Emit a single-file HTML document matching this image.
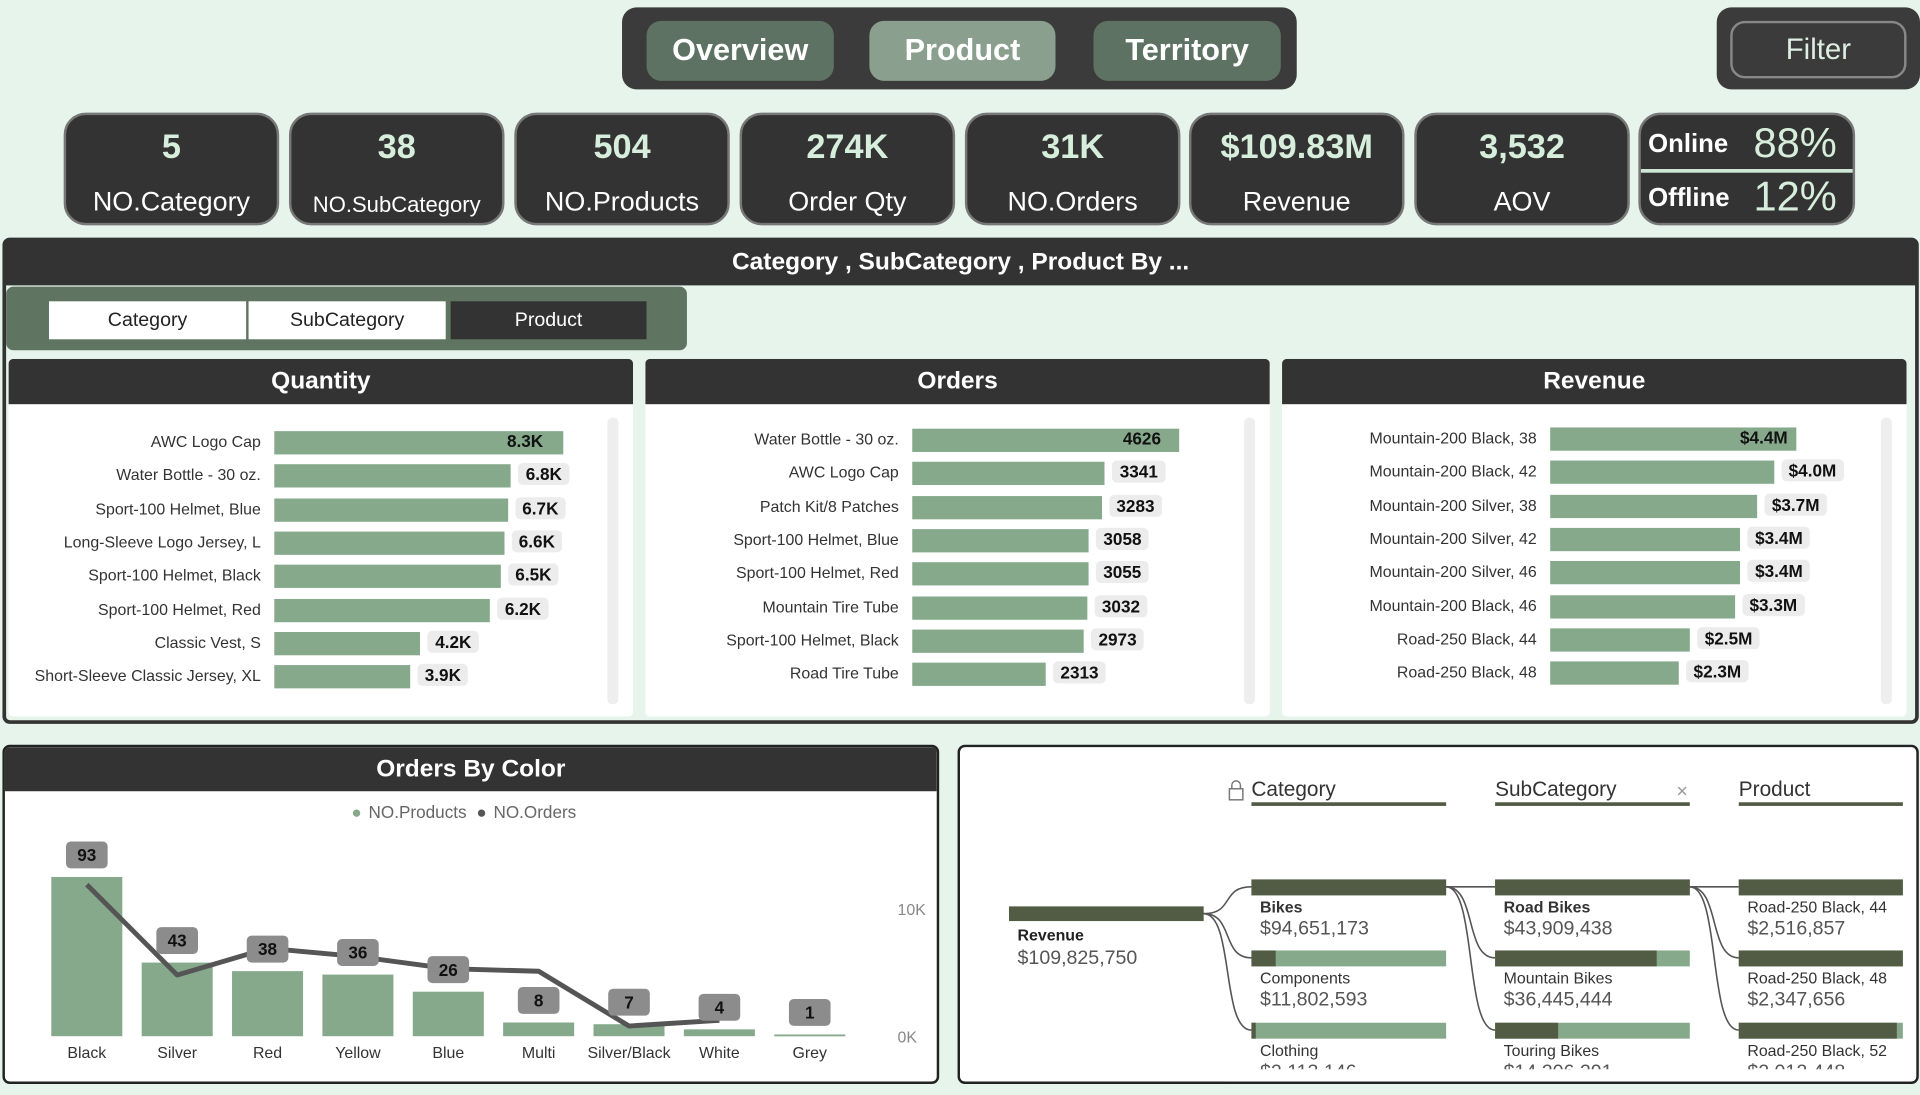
<!DOCTYPE html>
<html><head><meta charset="utf-8">
<style>
html,body{margin:0;padding:0;width:1920px;height:1095px;overflow:hidden;background:#e7f4eb;font-family:"Liberation Sans",sans-serif;}
#root{position:absolute;left:0;top:0;width:1568px;height:894px;transform:scale(1.22449,1.22483);transform-origin:0 0;}
.abs{position:absolute;box-sizing:border-box;}
.nav{background:#3a3b3a;border-radius:12px;}
.tab{border-radius:12px;color:#fff;font-weight:bold;font-size:25px;display:flex;align-items:center;justify-content:center;}
.kpi{background:#333;border-radius:18px;border:2px solid #777;overflow:hidden;text-align:center;}
.kpi .n{position:absolute;left:0;right:0;top:10px;color:#d6eedb;font-weight:bold;font-size:28px;}
.kpi .l{position:absolute;left:0;right:0;top:58px;color:#fff;font-size:22px;}
.hdr{background:#333;color:#fff;font-weight:bold;font-size:20px;display:flex;align-items:center;justify-content:center;}
.card{background:#fff;border-radius:4px;overflow:hidden;}
.lbl{font-size:13px;color:#333;text-align:right;white-space:nowrap;}
.val{font-size:14px;font-weight:bold;color:#111;background:#ececec;border-radius:4px;padding:1px 6px;}
</style></head><body>
<div id="root">
<div class="abs nav" style="left:508px;top:6px;width:551px;height:67px"></div>
<div class="abs tab" style="left:528px;top:17px;width:153px;height:49px;background:#5d7262">Overview</div>
<div class="abs tab" style="left:710px;top:17px;width:152px;height:49px;background:#8a9f8e">Product</div>
<div class="abs tab" style="left:893px;top:17px;width:153px;height:49px;background:#5d7262">Territory</div>
<div class="abs nav" style="left:1402px;top:6px;width:166px;height:67px"></div>
<div class="abs tab" style="left:1413px;top:17px;width:144px;height:47px;border:2px solid #888;background:#3a3b3a;color:#dfeee3;font-weight:normal;font-size:24px">Filter</div>

<div id="kpis"></div>
<div class="abs kpi" style="left:1338px;top:92px;width:177px;height:92px;text-align:left">
 <div class="abs" style="left:6px;top:12px;color:#fff;font-weight:bold;font-size:21px">Online</div>
 <div class="abs" style="left:92px;top:4px;color:#d6eedb;font-size:34px">88%</div>
 <div class="abs" style="left:0;top:44px;width:177px;height:3px;background:#cfe8d5"></div>
 <div class="abs" style="left:6px;top:56px;color:#fff;font-weight:bold;font-size:21px">Offline</div>
 <div class="abs" style="left:92px;top:48px;color:#d6eedb;font-size:34px">12%</div>
</div>

<div class="abs" style="left:2px;top:194px;width:1565px;height:397px;border:3px solid #333;border-radius:6px;background:#e7f4eb"></div>
<div class="abs hdr" style="left:4px;top:196px;width:1561px;height:37px">Category , SubCategory , Product By ...</div>
<div class="abs" style="left:5px;top:234px;width:556px;height:52px;background:#5f7562;border-radius:6px"></div>
<div class="abs tab" style="left:40px;top:246px;width:161px;height:31px;background:#fff;color:#222;font-weight:normal;font-size:16px;border-radius:0">Category</div>
<div class="abs tab" style="left:203px;top:246px;width:161px;height:31px;background:#fff;color:#222;font-weight:normal;font-size:16px;border-radius:0">SubCategory</div>
<div class="abs tab" style="left:368px;top:246px;width:160px;height:31px;background:#333;color:#fff;font-weight:normal;font-size:16px;border-radius:0">Product</div>
<div id="bars"></div>

<div class="abs card" style="left:2px;top:608px;width:765px;height:277px;border:2px solid #222;border-radius:6px">
 <div class="abs hdr" style="left:0;top:0;width:761px;height:36px">Orders By Color</div>
</div>
<svg class="abs" id="colorChart" style="left:0;top:0" width="1568" height="894"></svg>

<div class="abs card" style="left:782px;top:608px;width:785px;height:277px;border:2px solid #222;border-radius:6px"></div>
<svg class="abs" id="tree" style="left:0;top:0" width="1568" height="894"></svg>
</div>
<script>
// KPI data
const kpiValues=["5","38","504","274K","31K","$109.83M","3,532"];
const kpiLabels=["NO.Category","NO.SubCategory","NO.Products","Order Qty","NO.Orders","Revenue","AOV"];
const kpiX=[52,236,420,604,788,971,1155];
const kc=document.getElementById('kpis');
kpiValues.forEach((v,i)=>{const d=document.createElement('div');d.className='abs kpi';
d.style.cssText=`left:${kpiX[i]}px;top:92px;width:176px;height:92px`;


d.innerHTML=`<div class="n">${v}</div><div class="l" style="${i==1?'font-size:18px;top:63px':''}">${kpiLabels[i]}</div>`;kc.appendChild(d);});

// Bar chart data
const qtyCats=["AWC Logo Cap","Water Bottle - 30 oz.","Sport-100 Helmet, Blue","Long-Sleeve Logo Jersey, L","Sport-100 Helmet, Black","Sport-100 Helmet, Red","Classic Vest, S","Short-Sleeve Classic Jersey, XL"];
const qtyVals=[8.3,6.8,6.7,6.6,6.5,6.2,4.2,3.9];
const qtyLabels=["8.3K","6.8K","6.7K","6.6K","6.5K","6.2K","4.2K","3.9K"];
const ordCats=["Water Bottle - 30 oz.","AWC Logo Cap","Patch Kit/8 Patches","Sport-100 Helmet, Blue","Sport-100 Helmet, Red","Mountain Tire Tube","Sport-100 Helmet, Black","Road Tire Tube"];
const ordVals=[4626,3341,3283,3058,3055,3032,2973,2313];
const revCats=["Mountain-200 Black, 38","Mountain-200 Black, 42","Mountain-200 Silver, 38","Mountain-200 Silver, 42","Mountain-200 Silver, 46","Mountain-200 Black, 46","Road-250 Black, 44","Road-250 Black, 48"];
const revVals=[4.4,4.0,3.7,3.4,3.4,3.3,2.5,2.3];
const revLabels=["$4.4M","$4.0M","$3.7M","$3.4M","$3.4M","$3.3M","$2.5M","$2.3M"];

const bc=document.getElementById('bars');
function panel(x,title,cats,vals,labels,barX,barMax,y0,name){
 const c=document.createElement('div');c.className='abs card';c.style.cssText=`left:${x}px;top:293px;width:510px;height:292px`;
 
 
 c.innerHTML=`<div class="abs hdr" style="left:0;top:0;width:510px;height:37px">${title}</div>
 <div class="abs" style="left:${489}px;top:48px;width:9px;height:234px;background:#eee;border-radius:4px"></div>`;
 bc.appendChild(c);
 const max=Math.max(...vals);
 cats.forEach((cat,i)=>{const y=y0+i*27.3;
  const l=document.createElement('div');l.className='abs lbl';l.style.cssText=`right:${1568-(barX-11)}px;top:${y-8}px`;l.textContent=cat;
  
  bc.appendChild(l);
  const w=vals[i]/max*barMax;
  const b=document.createElement('div');b.className='abs';b.style.cssText=`left:${barX}px;top:${y-9}px;width:${w}px;height:19px;background:#86a98c`;
  
  bc.appendChild(b);
  const v=document.createElement('div');v.className='abs val';v.style.cssText=`left:${barX+w+(i==0?-52:6)}px;top:${y-10}px;${i==0?'background:transparent':''}`;v.textContent=labels[i];
  
  bc.appendChild(v);
 });
}
panel(7,"Quantity",qtyCats,qtyVals,qtyLabels,224,236,361,'quantity');
panel(527,"Orders",ordCats,ordVals,ordVals.map(String),745,218,359,'orders');
panel(1047,"Revenue",revCats,revVals,revLabels,1266,201,358,'revenue');
// fix orders first label position (inside bar end box like reference)
</script>
<script>
// Orders by color data
const colors=["Black","Silver","Red","Yellow","Blue","Multi","Silver/Black","White","Grey"];
const products=[93,43,38,36,26,8,7,4,1];
const orders=[11.9,4.8,6.9,6.25,5.3,5.1,0.8,1.25,null]; // thousands
const NS='http://www.w3.org/2000/svg';
const svg=document.getElementById('colorChart');
function el(t,a,p){const e=document.createElementNS(NS,t);for(const k in a)e.setAttribute(k,a[k]);(p||svg).appendChild(e);return e;}
const base=846,band=73.8,x0=34;
const yP=v=>base-v/93*130;
const yO=v=>base-v/10*104;
const xC=i=>x0+band*(i+0.5);
let t;
t=el('text',{x:287,y:668,'font-size':14,fill:'#666'});t.textContent='●';t.setAttribute('fill','#86a98c');
t=el('text',{x:301,y:668,'font-size':14,fill:'#666'});t.textContent='NO.Products';
t=el('text',{x:389,y:668,'font-size':14,fill:'#555'});t.textContent='●';
t=el('text',{x:403,y:668,'font-size':14,fill:'#666'});t.textContent='NO.Orders';
t=el('text',{x:733,y:747,'font-size':13,fill:'#888'});t.textContent='10K';
t=el('text',{x:733,y:851,'font-size':13,fill:'#888'});t.textContent='0K';
colors.forEach((c,i)=>{
 const y=yP(products[i]);
 const r=el('rect',{x:xC(i)-29,y:y,width:58,height:Math.max(base-y,1.5),fill:'#86a98c'});
 
 
 const tx=el('text',{x:xC(i),y:base+18,'font-size':13,fill:'#333','text-anchor':'middle'});tx.textContent=c;
 
 
});
const pts=orders.map((v,i)=>v==null?null:[xC(i),yO(v)]).filter(p=>p);
const pl=el('polyline',{points:pts.map(p=>p.join(',')).join(' '),fill:'none',stroke:'#555',"stroke-width":4,"stroke-linejoin":'round'});


colors.forEach((c,i)=>{
 const y=yP(products[i])-18;
 const r=el('rect',{x:xC(i)-17,y:y-11,width:34,height:22,rx:4,fill:'#8c8c8c'});
 
 
 const tx=el('text',{x:xC(i),y:y+5,'font-size':14,'font-weight':'bold',fill:'#111','text-anchor':'middle'});tx.textContent=products[i];
 
 
});
</script>
<script>
// Decomposition tree data
const levels=["Category","SubCategory","Product"];
const catNames=["Bikes","Components","Clothing"];
const catVals=[94651173,11802593,2113146];
const subNames=["Road Bikes","Mountain Bikes","Touring Bikes"];
const subVals=[43909438,36445444,14206291];
const prodNames=["Road-250 Black, 44","Road-250 Black, 48","Road-250 Black, 52"];
const prodVals=[2516857,2347656,2012448];
const total=109825750;
const tsvg=document.getElementById('tree');
function te(t,a){const e=document.createElementNS(NS,t);for(const k in a)e.setAttribute(k,a[k]);tsvg.appendChild(e);return e;}
const fmt=v=>'$'+v.toLocaleString('en-US');
const colX=[1022,1221,1420],colW=[159,159,134],rowY=[718,776,835];
levels.forEach((l,i)=>{
 const h=te('text',{x:colX[i],y:650,'font-size':17,fill:'#333'});h.textContent=l;
 
 
 te('rect',{x:colX[i],y:655,width:colW[i],height:3,fill:'#525c44'});
});
te('rect',{x:1004,y:644,width:11,height:9,fill:'none',stroke:'#777','stroke-width':1.2});
te('path',{d:'M1006 644 v-3 a3.5 3.5 0 0 1 7 0 v3',fill:'none',stroke:'#777','stroke-width':1.2});
const xx=te('text',{x:1369,y:651,'font-size':16,fill:'#999'});xx.textContent='×';
// root
const rb=te('rect',{x:824,y:740,width:159,height:12,fill:'#525c44'});


let tt=te('text',{x:831,y:768,'font-size':13,'font-weight':'bold',fill:'#222'});tt.textContent='Revenue';
tt=te('text',{x:831,y:787,'font-size':16,fill:'#555'});tt.textContent=fmt(total);
function col(ci,names,vals,parent,fromX,fromY){
 names.forEach((n,i)=>{
  const y=rowY[i],x=colX[ci],w=colW[ci];
  te('path',{d:`M${fromX} ${fromY} C ${fromX+25} ${fromY}, ${x-25} ${y+6}, ${x} ${y+6}`,fill:'none',stroke:'#555','stroke-width':1.3});
  te('rect',{x:x,y:y,width:w,height:13,fill:'#86a98c'});
  const b=te('rect',{x:x,y:y,width:w*Math.min(1,vals[i]/parent),height:13,fill:'#525c44'});
  
  
  const a=te('text',{x:x+7,y:y+27,'font-size':13,'font-weight':(i==0&&ci<2)?'bold':'normal',fill:'#333'});a.textContent=n;
  
  
  const v=te('text',{x:x+7,y:y+45,'font-size':16,fill:'#555'});v.textContent=fmt(vals[i]);
  
  
 });
}
col(0,catNames,catVals,catVals[0],983,746);
col(1,subNames,subVals,subVals[0],1181,724);
col(2,prodNames,prodVals,prodVals[0]*0.83,1380,724);
// clip overflow below panel
te('rect',{x:1000,y:873,width:560,height:10,fill:'#fff'});
</script>
</body></html>
